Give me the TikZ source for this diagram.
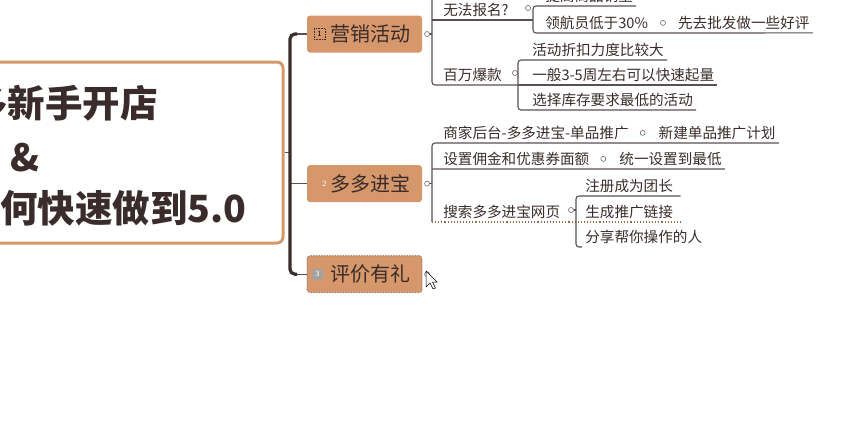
\documentclass[tikz,border=0pt]{standalone}
\usepackage{fontspec}
\newfontfamily\cjk{Noto Sans CJK SC}
\usepackage{tikz}
\usetikzlibrary{positioning}
\definecolor{tan}{RGB}{214,151,106}
\definecolor{ink}{RGB}{58,44,44}
\definecolor{twigc}{RGB}{90,80,80}

\begin{document}
\begin{tikzpicture}[x=1pt, y=-1pt, node distance=8pt, semithick]
  \tikzstyle{topic}=[fill=tan, rounded corners=3pt, minimum width=115pt, minimum height=37pt, text width=91pt, align=right, inner xsep=12pt, font=\cjk\fontsize{20}{22}\selectfont, text=ink]
  \tikzstyle{sub}=[anchor=south west, inner xsep=3pt, inner ysep=3pt, font=\cjk\fontsize{14.6}{16}\selectfont, text=ink]
  \tikzstyle{fold}=[circle, draw=twigc, line width=0.5pt, inner sep=0pt, minimum size=5pt]
  \tikzstyle{twig}=[draw=twigc, line width=1.1pt, rounded corners=3pt]
  \tikzstyle{dotline}=[draw=tan!70!black, line width=1.1pt, dotted]
  \tikzstyle{trunk}=[draw=ink, line width=3.2pt, rounded corners=5pt]
  \tikzstyle{headline}=[anchor=west, inner sep=0pt, font=\cjk\bfseries\fontsize{37.5}{40}\selectfont, text=ink]
  \tikzstyle{badge}=[inner sep=0pt, minimum size=11pt, font=\sffamily\fontsize{8}{8}\selectfont]
  \useasboundingbox (0,0) rectangle (854,440);
  \clip (0,0) rectangle (854,440);

  % central topic, cut at the left edge
  \node[draw=tan, line width=3pt, rounded corners=6pt, fill=white, minimum width=303pt, minimum height=181pt, inner sep=0pt] (root) at (131.5,152.5) {};
  \node[headline] (r1) at (-30,103) {多新手开店};
  \node[headline] (r2) at (10,158) {\&};
  \node[headline] (r3) at (0,208) {何快速做到5.0};

  % main topics
  \node[topic] (t1) at (364.5,34) {营销活动};
  \node[topic, below=112pt of t1] (t2) {多多进宝};
  \node[topic, below=53pt of t2, draw=twigc, densely dotted] (t3) {评价有礼};
  \node[badge, draw=ink, densely dotted, right=7pt of t1.west] (b1) {1};
  \node[badge, text=white, right=12pt of t2.west] (b2) {2};
  \node[badge, fill=ink!45, text=white, right=5pt of t3.west] (b3) {3};
  \node[fold, right=2pt of t1.east] (m1) {};
  \node[fold, right=2pt of t2.east] (m2) {};
  \node[fold, right=2pt of t3.east] (m3) {};

  % trunk
  \coordinate (jt) at (290,152.5);
  \path (jt |- t1.west) ++(7,0) coordinate (k1a);
  \path (jt |- t3.west) ++(7,0) coordinate (k3a);
  \draw[twig] (root.east) -- (jt);
  \draw[twig] (k1a) -- (t1.west);
  \draw[twig] (k3a) -- (t3.west);
  \draw[twig] (jt |- t2.west) -- (t2.west);
  \draw[trunk] (k1a) -| (jt) |- (k3a);

  % branches of topic 1
  \coordinate (k1) at (432,-10);
  \coordinate (k11) at (533,0);
  \coordinate (k12) at (518,0);
  \node[sub] (s11) at (440,20) {无法报名?};
  \node[sub] (s12) at (440,85) {百万爆款};
  \node[fold] (m11) at (528,8) {};
  \node[fold] (m12) at (515,73) {};
  \node[sub] (c111) at (542,6) {提高商品销量};
  \node[sub] (c112) at (542,33) {领航员低于30\%};
  \node[fold, right=9pt of c112] (m112) {};
  \node[sub, right=9pt of m112] (c1121) {先去批发做一些好评};
  \node[sub] (c121) at (529,60) {活动折扣力度比较大};
  \node[sub] (c122) at (529,85) {一般3-5周左右可以快速起量};
  \node[sub] (c123) at (529,110) {选择库存要求最低的活动};
  \draw[twig] (m1.east) -- (m1 -| k1);
  \draw[twig] (k1) -- (k1 |- s12.south) -- (k12 |- s12.south);
  \draw[twig] (k1 |- s11.south) -- (k11 |- s11.south);
  \draw[twig] (c111.south east) -- (k11 |- c111.south) -- (k11 |- c112.south) -- (c1121.south east);
  \draw[twig] (c121.south east) -- (k12 |- c121.south) -- (k12 |- c123.south) -- (c123.south east);
  \draw[twig] (k12 |- c122.south) -- (c122.south east);

  % branches of topic 2
  \coordinate (k2) at (432,0);
  \coordinate (k23) at (576,0);
  \node[sub] (s21) at (440,143) {商家后台-多多进宝-单品推广};
  \node[fold, right=8pt of s21] (m21) {};
  \node[sub, right=10pt of m21] (c211) {新建单品推广计划};
  \node[sub] (s22) at (440,169) {设置佣金和优惠券面额};
  \node[fold, right=8pt of s22] (m22) {};
  \node[sub, right=10pt of m22] (c221) {统一设置到最低};
  \node[sub] (s23) at (440,222) {搜索多多进宝网页};
  \node[fold] (m23) at (571,210) {};
  \node[sub, text width=92pt] (c231) at (582,196) {注册成为团长};
  \node[sub, text width=92pt] (c232) at (582,222) {生成推广链接};
  \node[sub] (c233) at (582,247) {分享帮你操作的人};
  \draw[twig] (m2.east) -- (m2 -| k2);
  \draw[twig] (c211.south east) -- (k2 |- s21.south) -- (k2 |- s23.south);
  \draw[twig] (k2 |- s22.south) -- (c221.south east);
  \draw[dotline] (k2 |- s23.south) -- (c232.south east);
  \draw[twig] (m23.east) -- (m23 -| k23);
  \draw[twig] (c231.south east) -- (k23 |- c231.south) -- (k23 |- c233.south) -- (c233.south west);

  % mouse pointer
  \draw[fill=white, line width=0.5pt] (426,271) -- (426,287) -- (430,283) -- (433,289) -- (435.5,288) -- (432.5,282) -- (437,282) -- cycle;
\end{tikzpicture}
\end{document}
